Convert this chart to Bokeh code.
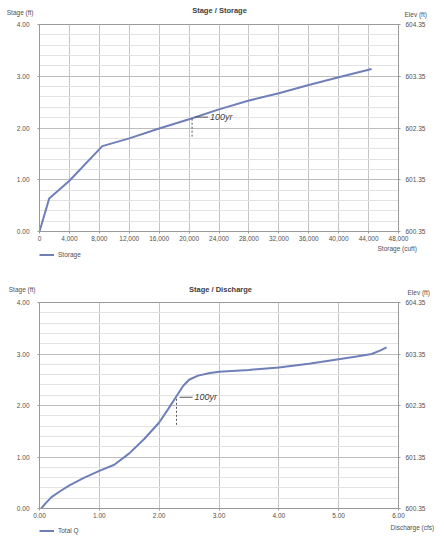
import numpy as np
from bokeh.plotting import figure
from bokeh.models import (Range1d, LinearAxis, FixedTicker, PrintfTickFormatter,
                          NumeralTickFormatter, CustomJSTickFormatter, Label,
                          Legend, LegendItem)
from bokeh.layouts import column
from bokeh.embed import file_html
from bokeh.resources import INLINE

# ---------------- data ----------------
storage_cuft = [0, 1300, 4000, 8400, 12000, 16000, 20000, 24000, 28000, 32000, 36000, 40000, 44400]
storage_stage_ft = [0.00, 0.64, 0.98, 1.65, 1.80, 1.99, 2.17, 2.36, 2.53, 2.67, 2.83, 2.98, 3.14]

discharge_cfs = [0.03, 0.10, 0.20, 0.35, 0.50, 0.75, 1.00, 1.25, 1.50, 1.75, 2.00, 2.15, 2.30,
                 2.40, 2.50, 2.65, 2.85, 3.00, 3.50, 4.00, 4.50, 5.00, 5.30, 5.55, 5.70, 5.80]
discharge_stage_ft = [0.00, 0.10, 0.22, 0.34, 0.45, 0.60, 0.73, 0.85, 1.07, 1.35, 1.67, 1.93, 2.20,
                      2.38, 2.50, 2.58, 2.63, 2.655, 2.69, 2.74, 2.81, 2.90, 2.95, 3.00, 3.07, 3.13]

stage_ticks = [0, 1, 2, 3, 4]
stage_minor = [i * 0.2 for i in range(21)]
elev_ticks = [600.35, 601.35, 602.35, 603.35, 604.35]
storage_ticks = list(range(0, 48001, 4000))
discharge_ticks = [0, 1, 2, 3, 4, 5, 6]

# hand-written 100-yr marks: (x, stage)
mark_storage = (20400, 2.21)
mark_discharge = (2.29, 2.16)

FONT = "Liberation Sans"
TXT = "#505050"
LINE = "#6f7fb8"
W = 444
L, R, FW = 39, 46, 359


def base(h):
    f = figure(width=W, height=h, x_range=Range1d(0, FW), y_range=Range1d(h, 0),
               x_axis_type=None, y_axis_type=None, output_backend="svg",
               toolbar_location=None, min_border=0)
    f.min_border_left, f.min_border_right = L, R
    f.min_border_top = f.min_border_bottom = 0
    f.outline_line_color = None
    f.grid.visible = False
    return f


def text_axis(f, side, pos, text, standoff):
    ax = LinearAxis(ticker=FixedTicker(ticks=[pos]),
                    formatter=CustomJSTickFormatter(code="return %r;" % text))
    ax.axis_line_color = None
    ax.major_tick_line_color = None
    ax.minor_tick_line_color = None
    ax.major_tick_in = 0
    ax.major_tick_out = 0
    ax.major_label_standoff = standoff
    ax.major_label_text_font = FONT
    ax.major_label_text_font_size = "6.5px"
    ax.major_label_text_color = TXT
    f.add_layout(ax, side)


def header(h, title, title_x, title_y, stage_y, stage_off, elev_y, elev_off):
    f = base(h)
    text_axis(f, "left", stage_y, "Stage (ft)", stage_off)
    text_axis(f, "right", elev_y, "Elev (ft)", elev_off)
    f.add_layout(Label(x=title_x, y=title_y, text=title, text_font=FONT,
                       text_font_size="7.5px", text_font_style="bold",
                       text_color="#404040", text_baseline="middle",
                       text_align="center"))
    return f


def footer(h, label, label_y, label_off, leg_label, leg_y):
    f = base(h)
    text_axis(f, "right", label_y, label, label_off)
    r = f.line(np.array([np.nan]), np.array([np.nan]), line_color=LINE, line_width=2)
    leg = Legend(items=[LegendItem(label=leg_label, renderers=[r])],
                 location=(0, h - leg_y - 3.5), padding=0, margin=0, spacing=0,
                 glyph_width=15, glyph_height=7, label_height=7, label_standoff=4,
                 label_text_font=FONT, label_text_font_size="6.5px",
                 label_text_color=TXT, border_line_color=None,
                 background_fill_alpha=0)
    f.add_layout(leg)
    return f


def make_fig(xmax, xticks, xfmt, xs, ys, mark, mark_len, frame_h):
    p = figure(width=W, height=5 + frame_h + 12,
               x_range=Range1d(0, xmax), y_range=Range1d(0, 4),
               output_backend="svg", toolbar_location=None,
               background_fill_color="white", border_fill_color="white")
    p.min_border_left, p.min_border_right = L, R
    p.min_border_top, p.min_border_bottom = 5, 12
    p.outline_line_color = "#9a9a9a"
    p.extra_y_ranges = {"elev": Range1d(600.35, 604.35)}

    p.xaxis.ticker = FixedTicker(ticks=xticks)
    p.xaxis.formatter = xfmt
    p.yaxis.ticker = FixedTicker(ticks=stage_ticks, minor_ticks=stage_minor)
    p.yaxis.formatter = PrintfTickFormatter(format="%.2f")
    ra = LinearAxis(y_range_name="elev",
                    ticker=FixedTicker(ticks=elev_ticks),
                    formatter=PrintfTickFormatter(format="%.2f"))
    p.add_layout(ra, "right")
    for ax in [p.xaxis[0], p.yaxis[0], ra]:
        ax.axis_line_color = "#9a9a9a"
        ax.major_tick_line_color = "#9a9a9a"
        ax.major_tick_in = 0
        ax.major_tick_out = 2
        ax.minor_tick_line_color = None
        ax.major_label_text_font = FONT
        ax.major_label_text_font_size = "6.5px"
        ax.major_label_text_color = TXT
    p.xaxis.major_label_standoff = 2
    p.yaxis.major_label_standoff = 6
    ra.major_label_standoff = 5

    p.xgrid.grid_line_color = "#c4c4c4"
    p.ygrid.grid_line_color = "#bdbdbd"
    p.ygrid.minor_grid_line_color = "#e3e3e3"

    p.line(xs, ys, line_color=LINE, line_width=2)

    mx, my = mark
    dx = xmax / float(FW)
    p.segment(x0=[mx + 3 * dx], y0=[my], x1=[mx + 16 * dx], y1=[my],
              line_color="#555555", line_width=1)
    p.segment(x0=[mx], y0=[my - 0.03], x1=[mx], y1=[my - mark_len],
              line_color="#555555", line_width=1, line_dash="2 2")
    p.add_layout(Label(x=mx + 18 * dx, y=my + 0.01, text="100yr", text_font=FONT,
                       text_font_style="italic", text_font_size="9px",
                       text_color="#444444", text_baseline="middle"))
    return p


h1 = header(19, "Stage / Storage", 180, 10, 12, 6, 14, 6)
p1 = make_fig(48000, storage_ticks, NumeralTickFormatter(format="0,0"),
              storage_cuft, storage_stage_ft, mark_storage, 0.4, 207)
f1 = footer(23, "Storage (cuft)", 5, -21, "Storage", 11)

h2 = header(31, "Stage / Discharge", 181, 23, 23, 4, 26, 9)
p2 = make_fig(6, discharge_ticks, PrintfTickFormatter(format="%.2f"),
              discharge_cfs, discharge_stage_ft, mark_discharge, 0.55, 206)
f2 = footer(26, "Discharge (cfs)", 7, -8, "Total Q", 10)

layout = column(h1, p1, f1, h2, p2, f2, spacing=0)
open("out.html", "w").write(file_html(layout, INLINE))
